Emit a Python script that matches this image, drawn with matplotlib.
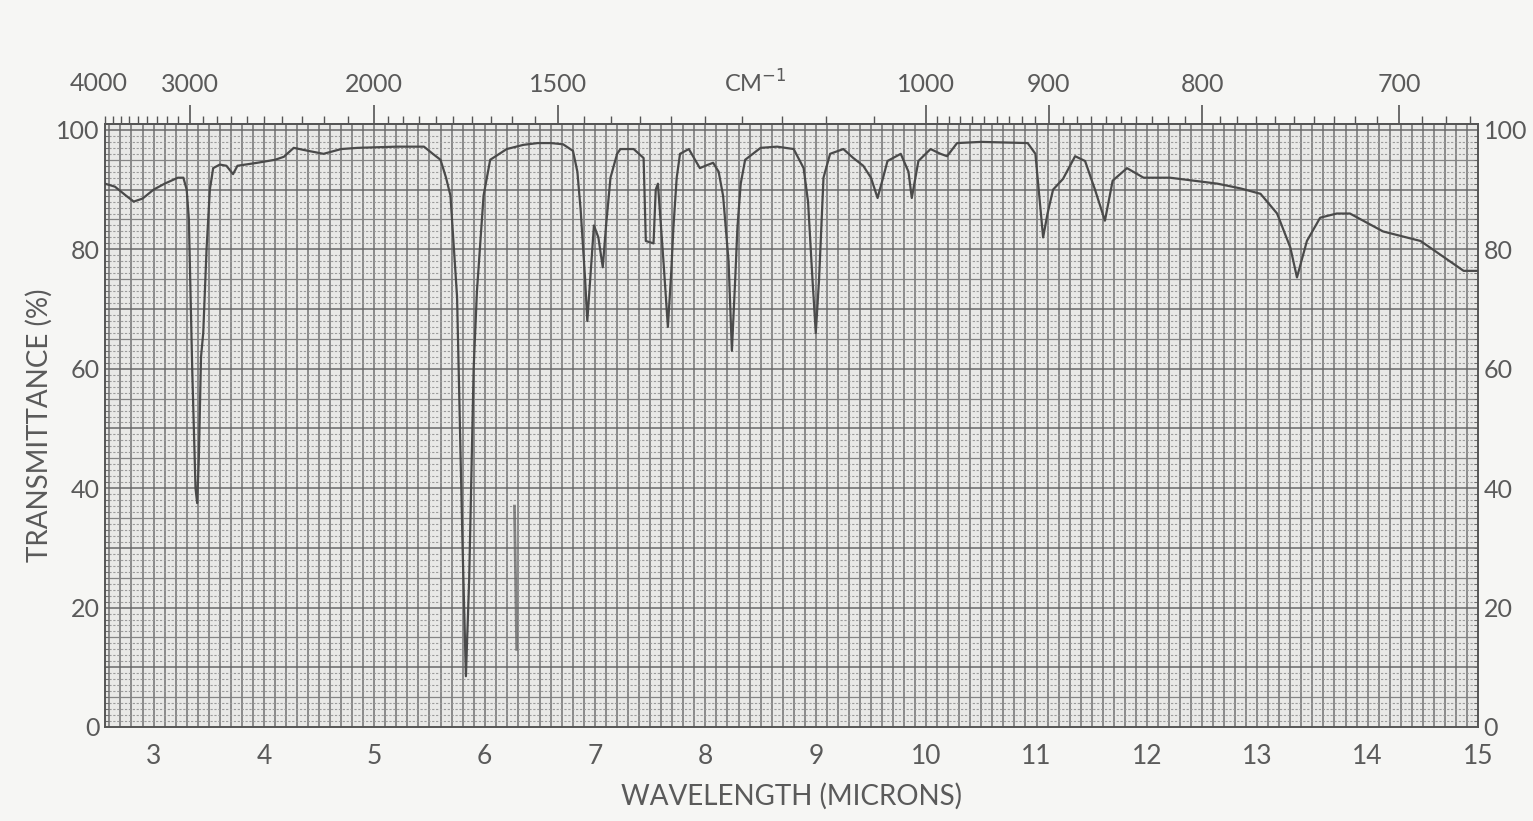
import numpy as np
import matplotlib.pyplot as plt
from matplotlib.ticker import FixedLocator, MultipleLocator

# IR trace: wavelength (microns) vs transmittance (%)
wavelength = [
    2.56, 2.65, 2.75, 2.82, 2.90, 3.00, 3.10, 3.22, 3.27, 3.30, 3.32, 3.35,
    3.38, 3.395, 3.41, 3.43, 3.45, 3.48, 3.51, 3.54, 3.60, 3.66, 3.72, 3.76,
    3.94, 4.10, 4.18, 4.27, 4.40, 4.54, 4.70, 4.85, 5.20, 5.45, 5.53, 5.60,
    5.65, 5.69, 5.75, 5.80, 5.83, 5.86, 5.90, 5.93, 5.99, 6.05, 6.20, 6.35,
    6.48, 6.60, 6.71, 6.80, 6.84, 6.87, 6.91, 6.93, 6.96, 6.99, 7.03, 7.07,
    7.10, 7.14, 7.20, 7.23, 7.35, 7.44, 7.46, 7.53, 7.55, 7.57, 7.62, 7.66,
    7.69, 7.71, 7.74, 7.77, 7.85, 7.95, 8.00, 8.07, 8.12, 8.16, 8.21, 8.24,
    8.27, 8.29, 8.32, 8.36, 8.50, 8.65, 8.80, 8.89, 8.93, 8.97, 9.00, 9.03,
    9.07, 9.13, 9.25, 9.34, 9.43, 9.50, 9.56, 9.61, 9.65, 9.77, 9.84, 9.87,
    9.93, 10.04, 10.13, 10.19, 10.28, 10.50, 10.92, 10.99, 11.03, 11.06,
    11.10, 11.15, 11.24, 11.35, 11.44, 11.53, 11.62, 11.69, 11.82, 11.97,
    12.21, 12.64, 12.85, 13.03, 13.18, 13.30, 13.36, 13.45, 13.57, 13.72,
    13.84, 14.14, 14.48, 14.87, 15.00,
]
transmittance = [
    91, 90.5, 89, 88, 88.5, 90, 91, 92, 92, 90, 85, 60,
    40, 37.5, 45, 62, 66, 80, 90, 93.6, 94.2, 94, 92.6, 94,
    94.5, 95, 95.5, 97, 96.5, 96, 96.8, 97, 97.2, 97.2, 96, 95,
    92, 89, 72, 30, 8.5, 25, 60, 73, 89, 95, 96.8, 97.5,
    97.8, 97.8, 97.6, 96.5, 93, 86.5, 75, 68, 76, 84, 82, 77,
    84, 92, 96, 96.8, 96.8, 95.3, 81.4, 81, 90, 91, 78, 67,
    76, 83.6, 92, 96, 96.8, 93.6, 94, 94.5, 93, 89, 78, 63,
    75, 83.6, 91, 95, 97, 97.2, 96.8, 93.6, 88, 75, 66, 75,
    92, 96, 96.8, 95.3, 94, 92, 88.6, 92, 94.8, 96, 93, 88.6,
    94.8, 96.8, 96, 95.6, 97.8, 98, 97.8, 96, 88, 82,
    86, 90, 91.8, 95.6, 94.8, 90, 84.8, 91.5, 93.6, 92,
    92, 91, 90.2, 89.3, 86, 80.3, 75.3, 81.4, 85.3, 86,
    86, 83, 81.4, 76.4, 76.4,
]

# stray pen stroke on the chart paper near 6.3 microns
stroke_x = [6.27, 6.28, 6.29]
stroke_y = [37, 25, 13]

micron_ticks = list(range(3, 16))
wavenumber_major = [4000, 3000, 2000, 1500, 1000, 900, 800, 700]
wavenumber_minor = (list(range(4000, 2000, -100)) + list(range(2000, 1000, -50))
                    + list(range(1000, 660, -10)))
percent_ticks = [0, 20, 40, 60, 80, 100]

ink = "#4a4a4a"
label_color = "#5a5a5a"
font = "Lato"

fig = plt.figure(figsize=(15.33, 8.21), dpi=100, facecolor="#f6f6f4")
ax = fig.add_axes([0.0685, 0.1145, 0.8956, 0.7345])
ax.set_facecolor("#e9e9e7")
ax.set_xlim(2.56, 15.0)
ax.set_ylim(0, 101)

# chart paper grid
for x in np.arange(2.6, 15.0, 0.1):
    ax.axvline(x, color="#7a7a7a", lw=1.2, zorder=1)
for y in range(1, 101):
    if y % 10 == 0:
        ax.axhline(y, color="#6a6a6a", lw=1.1, zorder=1)
    elif y % 5 == 0:
        ax.axhline(y, color="#858585", lw=0.9, zorder=1)
    else:
        ax.axhline(y, color="#9a9a9a", lw=0.8, ls=(0, (2, 1.5)), zorder=1)

ax.plot(stroke_x, stroke_y, color="#6a6a6a", lw=2.0, alpha=0.8, zorder=2)
ax.plot(wavelength, transmittance, color=ink, lw=1.6, zorder=3)

for side in ax.spines.values():
    side.set_color("#555555")
    side.set_linewidth(1.4)

ax.set_xticks(micron_ticks)
ax.set_xticklabels([str(t) for t in micron_ticks], fontsize=19,
                   color=label_color, family=font)
ax.tick_params(axis="x", length=0, pad=12)
ax.set_yticks(percent_ticks)
ax.yaxis.set_minor_locator(MultipleLocator(1))
ax.tick_params(axis="y", which="major", length=0, pad=4, labelsize=18,
               labelcolor=label_color, left=True, right=True,
               labelleft=True, labelright=True)
ax.tick_params(axis="y", which="minor", length=3, color="#666666",
               direction="in", left=True, right=True)
for lbl in ax.get_yticklabels():
    lbl.set_family(font)

ax.set_xlabel("WAVELENGTH (MICRONS)", fontsize=20, color=label_color,
              family=font, labelpad=10)
ax.set_ylabel("TRANSMITTANCE (%)", fontsize=20, color=label_color,
              family=font, labelpad=2)

# wavenumber scale along the top
with np.errstate(divide="ignore"):
    top = ax.secondary_xaxis("top", functions=(lambda x: 1e4 / x,
                                                lambda x: 1e4 / x))
top.xaxis.set_major_locator(FixedLocator(wavenumber_major))
top.xaxis.set_minor_locator(FixedLocator(wavenumber_minor))
top.set_xticklabels([str(w) for w in wavenumber_major], fontsize=18,
                    color=label_color, family=font)
top.tick_params(axis="x", which="major", length=14, width=1.2,
                color="#555555", pad=6)
top.tick_params(axis="x", which="minor", length=6, width=1.0,
                color="#555555")
top.spines["top"].set_color("#555555")
top.spines["top"].set_linewidth(1.4)

# 4000 cm-1 sits just left of the plotted range, so label it by hand
ax.text(1e4 / wavenumber_major[0], 107.8, str(wavenumber_major[0]),
        fontsize=18, color=label_color, family=font, ha="center",
        va="center", clip_on=False)
ax.text(8.45, 107.8, "CM$^{-1}$", fontsize=17, color=label_color,
        family=font, ha="center", va="center", clip_on=False)

fig.savefig("out.png", dpi=100, facecolor=fig.get_facecolor())
